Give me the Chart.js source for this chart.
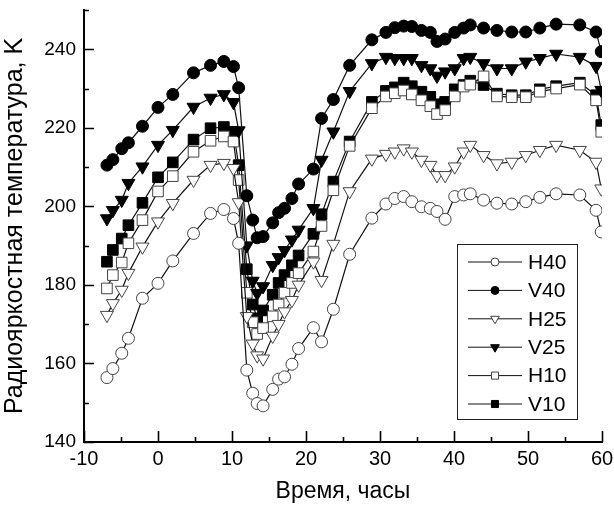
<!DOCTYPE html>
<html>
<head>
<meta charset="utf-8">
<script src="https://cdn.jsdelivr.net/npm/chart.js@4/dist/chart.umd.min.js"></script>
<style>
  html, body { margin: 0; padding: 0; background: #fff; }
  #wrap { width: 614px; height: 512px; }
</style>
</head>
<body>
<div id="wrap"><canvas id="chart" width="614" height="512"></canvas></div>
<script>
// ---------- data ----------
const times = [-6.9, -6.1, -4.9, -4.0, -2.1, 0, 2, 4.8, 7.1, 8.9, 10.2, 10.9,
  12, 12.8, 13.4, 14.2, 15.5, 16.3, 17.1, 18.1, 19, 21, 22.1, 23.7, 25.9,
  28.9, 30.8, 32, 33.2, 34.3, 35.6, 36.8, 37.7, 38.8, 40.1, 41.3, 42.2, 44,
  45.8, 47.8, 49.7, 51.6, 53.8, 57, 59.2, 59.9];

const h40 = [156.4, 158.7, 162.6, 166.4, 176.6, 180.4, 186.1, 193.1, 198.2, 199.2, 196.9, 190.6,
  158.3, 152.4, 149.8, 149.2, 153.4, 156.0, 156.6, 159.8, 163.8, 169.1, 165.5, 173.8, 187.8,
  197.0, 200.6, 202.0, 202.5, 201.2, 199.9, 199.5, 198.7, 196.7, 202.5, 202.9, 203.2, 201.6,
  200.8, 200.6, 201.2, 202.3, 203.2, 202.9, 199.0, 193.5];
const v40 = [210.5, 211.9, 214.7, 216.2, 220.4, 225.2, 228.5, 234.0, 235.9, 236.9, 235.6, 230.2,
  202.7, 196.5, 192.0, 192.3, 195.8, 198.4, 199.5, 202.0, 205.7, 209.5, 222.4, 227.2, 235.9,
  242.4, 244.3, 245.5, 245.9, 245.8, 244.8, 244.3, 242.0, 242.6, 244.3, 245.4, 246.2, 245.4,
  244.8, 244.4, 244.4, 245.4, 246.4, 246.2, 244.4, 239.4];
const h25 = [172.3, 175.3, 178.7, 183.0, 189.7, 196.1, 200.8, 206.7, 210.5, 211.0, 209.7, 201.0,
  172.0, 165.0, 162.0, 161.2, 167.0, 170.0, 173.2, 176.1, 180.0, 185.9, 181.2, 190.4, 203.8,
  212.1, 213.3, 213.9, 214.7, 213.9, 211.8, 210.5, 207.9, 207.9, 210.1, 213.9, 215.6, 213.0,
  210.9, 211.3, 213.0, 214.3, 215.6, 214.3, 211.3, 204.5];
const v25 = [196.9, 199.0, 201.6, 205.9, 210.1, 215.6, 219.4, 225.3, 227.6, 228.5, 226.5, 219.3,
  190.0, 181.0, 177.9, 179.6, 185.0, 187.0, 188.8, 191.5, 194.0, 199.5, 211.8, 219.0, 229.3,
  236.4, 238.0, 237.7, 237.7, 237.7, 235.9, 235.1, 233.2, 234.3, 235.1, 237.7, 238.0, 236.4,
  235.1, 235.1, 236.8, 237.7, 238.8, 238.0, 235.7, 229.6];
const h10 = [179.1, 182.5, 185.7, 190.6, 196.5, 203.8, 207.7, 213.9, 216.7, 217.8, 216.5, 206.7,
  178.0, 170.5, 167.5, 169.0, 172.0, 175.0, 178.0, 180.5, 183.0, 188.5, 195.0, 204.1, 215.4,
  225.0, 228.0, 228.8, 229.5, 228.5, 227.0, 225.5, 223.5, 224.5, 228.0, 230.5, 231.0, 233.1,
  228.0, 227.8, 227.8, 229.2, 230.0, 231.0, 227.0, 219.0];
const v10 = [185.9, 188.9, 191.8, 195.2, 200.9, 207.4, 211.2, 217.0, 219.9, 220.2, 219.0, 210.5,
  184.0, 175.0, 171.5, 173.5, 177.5, 180.5, 182.5, 185.0, 187.5, 193.0, 198.0, 206.3, 216.5,
  226.6, 229.4, 230.3, 231.5, 230.6, 229.2, 227.9, 226.0, 226.6, 229.8, 230.9, 232.0, 230.9,
  228.7, 228.3, 228.3, 229.8, 230.6, 231.5, 228.3, 220.7];

const labels = ['H40', 'V40', 'H25', 'V25', 'H10', 'V10'];
const xTicks = [-10, 0, 10, 20, 30, 40, 50, 60];
const yTicks = [140, 160, 180, 200, 220, 240];

const FONT = "'Liberation Sans', Arial, sans-serif";

// ---------- series styles ----------
const pts = vals => times.map((t, i) => ({ x: t, y: vals[i] }));

function series(label, vals, shape, filled, r) {
  return {
    label,
    data: pts(vals),
    showLine: true,
    borderColor: '#111',
    borderWidth: 1.2,
    pointStyle: shape,
    pointRotation: shape === 'triangle' ? 180 : 0,
    pointRadius: r,
    pointBackgroundColor: filled ? '#000' : '#fff',
    pointBorderColor: filled ? '#000' : '#444',
    pointBorderWidth: 1,
    tension: 0
  };
}

const datasets = [
  series(labels[0], h40, 'circle', false, 6),
  series(labels[1], v40, 'circle', true, 6),
  series(labels[2], h25, 'triangle', false, 7.5),
  series(labels[3], v25, 'triangle', true, 7.5),
  series(labels[4], h10, 'rect', false, 7.5),
  series(labels[5], v10, 'rect', true, 7.5)
];

// ---------- inward ticks + boxed legend ----------
const frame = {
  id: 'frame',
  afterDraw(chart) {
    const { ctx, chartArea: a, scales: { x, y } } = chart;
    ctx.save();
    ctx.strokeStyle = '#000';
    ctx.lineWidth = 1.6;
    ctx.beginPath();
    for (let v = xTicks[0]; v <= xTicks[xTicks.length - 1]; v += 5) {
      const px = Math.round(x.getPixelForValue(v)) + 0.5;
      const len = xTicks.includes(v) ? 11 : 5;
      ctx.moveTo(px, a.bottom); ctx.lineTo(px, a.bottom - len);
    }
    for (let v = yTicks[0]; v <= y.max; v += 10) {
      const py = Math.round(y.getPixelForValue(v)) + 0.5;
      const len = yTicks.includes(v) ? 10 : 5;
      ctx.moveTo(a.left, py); ctx.lineTo(a.left + len, py);
    }
    ctx.stroke();

    // legend box
    const bx = 457, by = 244, bw = 120, bh = 175;
    ctx.fillStyle = '#fff';
    ctx.fillRect(bx, by, bw, bh);
    ctx.lineWidth = 1;
    ctx.strokeStyle = '#222';
    ctx.strokeRect(bx + 0.5, by + 0.5, bw, bh);
    ctx.font = '21px ' + FONT;
    ctx.textBaseline = 'middle';
    chart.data.datasets.forEach((ds, i) => {
      const cy = 262 + i * 28.4;
      ctx.strokeStyle = ds.borderColor;
      ctx.lineWidth = 1;
      ctx.beginPath();
      ctx.moveTo(468, cy); ctx.lineTo(522, cy);
      ctx.stroke();
      ctx.fillStyle = ds.pointBackgroundColor;
      ctx.strokeStyle = ds.pointBorderColor;
      Chart.helpers.drawPoint(ctx, {
        pointStyle: ds.pointStyle,
        rotation: ds.pointRotation,
        radius: ds.pointStyle === 'circle' ? 4 : 5,
        borderWidth: 1
      }, 495, cy);
      ctx.fillStyle = '#000';
      ctx.fillText(ds.label, 528, cy + 1);
    });
    ctx.restore();
  }
};

new Chart(document.getElementById('chart'), {
  type: 'scatter',
  data: { datasets },
  options: {
    responsive: false,
    animation: false,
    layout: { padding: { left: 0, right: 12, top: 10, bottom: 0 } },
    plugins: { legend: { display: false }, tooltip: { enabled: false } },
    scales: {
      x: {
        type: 'linear',
        min: -10, max: 60,
        afterBuildTicks: s => { s.ticks = xTicks.map(v => ({ value: v })); },
        afterFit: s => { s.height = 70; s.paddingLeft = s.paddingRight = 0; },
        grid: { display: false, drawTicks: false },
        border: { display: true, color: '#000', width: 2 },
        ticks: { color: '#000', padding: 5, font: { family: FONT, size: 20 }, maxRotation: 0 },
        title: {
          display: true, text: 'Время, часы', color: '#000',
          font: { family: FONT, size: 23 }, padding: { top: 0, bottom: 7 }
        }
      },
      y: {
        type: 'linear',
        min: 140, max: 250,
        afterBuildTicks: s => { s.ticks = yTicks.map(v => ({ value: v })); },
        afterFit: s => { s.width = 84; s.paddingTop = s.paddingBottom = 0; },
        grid: { display: false, drawTicks: false },
        border: { display: true, color: '#000', width: 2 },
        ticks: { color: '#000', padding: 8, font: { family: FONT, size: 19 } },
        title: {
          display: true, text: 'Радиояркостная температура, K', color: '#000',
          font: { family: FONT, size: 25 }, padding: { top: 0, bottom: 0 }
        }
      }
    }
  },
  plugins: [frame]
});
</script>
</body>
</html>
